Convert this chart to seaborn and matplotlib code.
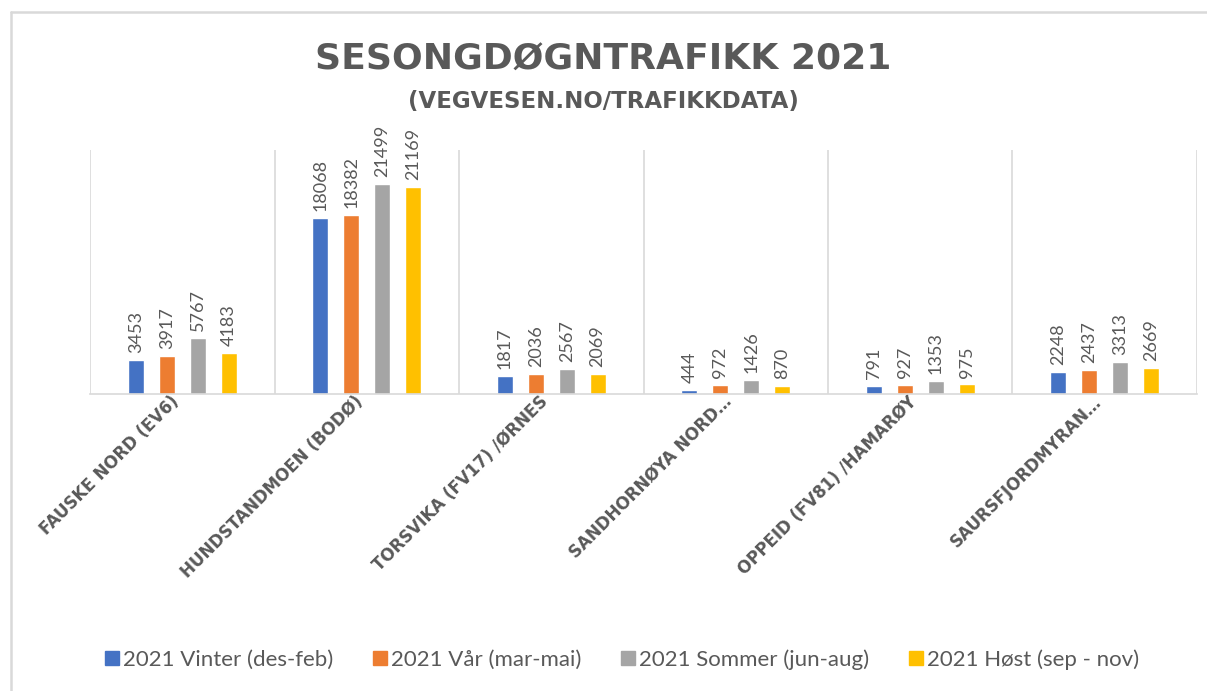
import pandas as pd
import matplotlib.pyplot as plt
import seaborn as sns
from matplotlib.lines import Line2D

# Data
steder = ['FAUSKE NORD (EV6)', 'HUNDSTANDMOEN (BODØ)', 'TORSVIKA (FV17) /ØRNES',
          'SANDHORNØYA NORD…', 'OPPEID (FV81) /HAMARØY', 'SAURSFJORDMYRAN…']
perioder = ['2021 Vinter (des-feb)', '2021 Vår (mar-mai)',
            '2021 Sommer (jun-aug)', '2021 Høst (sep - nov)']
vinter = [3453, 18068, 1817, 444, 791, 2248]
vaar = [3917, 18382, 2036, 972, 927, 2437]
sommer = [5767, 21499, 2567, 1426, 1353, 3313]
host = [4183, 21169, 2069, 870, 975, 2669]

colors = ['#4472C4', '#ED7D31', '#A5A5A5', '#FFC000']
grey = '#595959'
line = '#D9D9D9'

# Long format for seaborn
df = pd.DataFrame({'sted': steder * 4,
                   'periode': [p for p in perioder for _ in steder],
                   'trafikk': vinter + vaar + sommer + host})

sns.set_style('white')
plt.rcParams['font.family'] = ['Lato', 'DejaVu Sans']

fig = plt.figure(figsize=(12.07, 6.91), dpi=100)
ax = fig.add_axes([0.0746, 0.4298, 0.9171, 0.3532])

sns.barplot(data=df, x='sted', y='trafikk', hue='periode', palette=colors,
            width=0.67, gap=0.48, ax=ax, legend=False, saturation=1)

# Data labels
for c in ax.containers:
    ax.bar_label(c, rotation=90, padding=5, color=grey, fontsize=13)

ax.set_ylim(0, 25000)
ax.set_xlim(-0.5, len(steder) - 0.5)
ax.set_yticks([])
ax.set_xlabel('')
ax.set_ylabel('')

# Vertical separators between categories
ax.set_xticks([i - 0.5 for i in range(len(steder) + 1)], minor=True)
ax.grid(which='minor', axis='x', color=line, linewidth=1.2)
ax.tick_params(axis='x', which='both', length=0, pad=8)
ax.set_xticks(range(len(steder)))
ax.set_xticklabels(steder, rotation=45, ha='right', va='bottom',
                   rotation_mode='anchor', color=grey, fontsize=12,
                   fontweight='bold', family='DejaVu Sans')

for s in ['top', 'right', 'left']:
    ax.spines[s].set_visible(False)
ax.spines['bottom'].set_color(line)
ax.spines['bottom'].set_linewidth(1.2)

# Titles
fig.text(0.5, 0.914, 'SESONGDØGNTRAFIKK 2021', ha='center', va='center',
         fontsize=26, fontweight='bold', color=grey, family='DejaVu Sans')
fig.text(0.5, 0.853, '(VEGVESEN.NO/TRAFIKKDATA)', ha='center', va='center',
         fontsize=16.5, fontweight='bold', color=grey, family='DejaVu Sans')

# Legend
handles = [Line2D([], [], marker='s', linestyle='', markersize=10,
                  markerfacecolor=c, markeredgecolor=c) for c in colors]
fig.legend(handles, perioder, loc='center', bbox_to_anchor=(0.516, 0.045),
           ncol=4, frameon=False, fontsize=16, labelcolor=grey,
           handlelength=0.5, handletextpad=0.25, columnspacing=1.85)

# Chart frame (left and top edges)
fig.add_artist(Line2D([11 / 1207, 11 / 1207], [0, 1 - 12 / 691],
                      transform=fig.transFigure, color=line, linewidth=1.8))
fig.add_artist(Line2D([11 / 1207, 1], [1 - 12 / 691, 1 - 12 / 691],
                      transform=fig.transFigure, color=line, linewidth=1.8))

fig.savefig('out.png', dpi=100, facecolor='white')
